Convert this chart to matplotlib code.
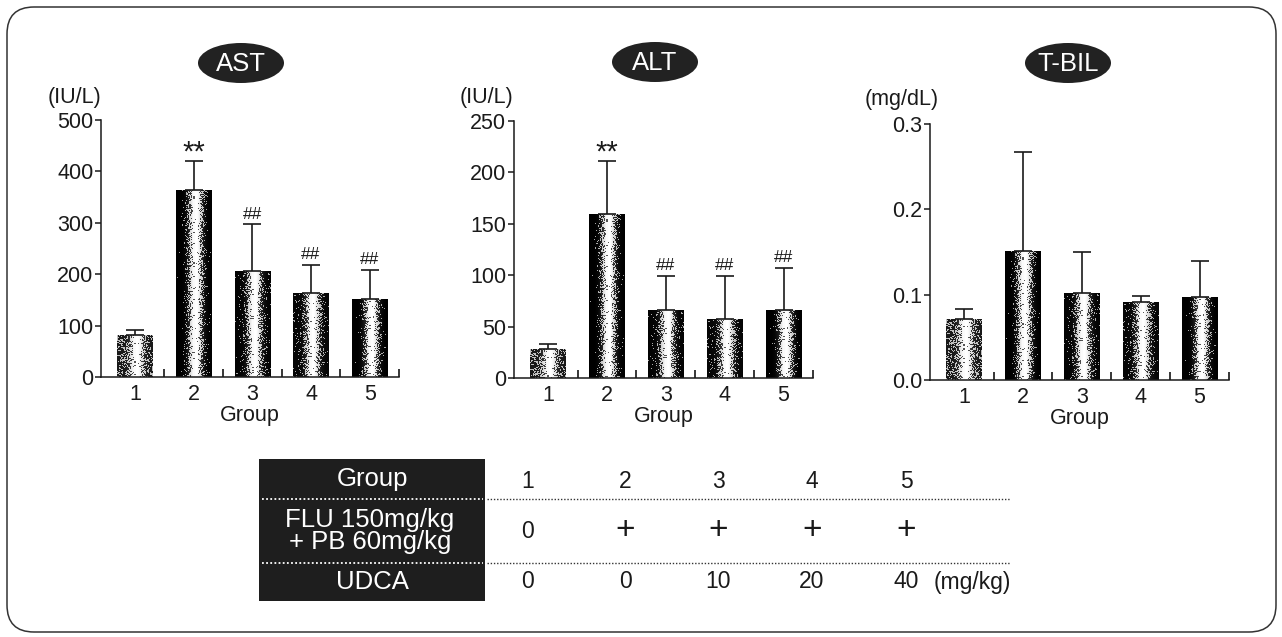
import numpy as np
import matplotlib
matplotlib.use("Agg")
import matplotlib.pyplot as plt
from matplotlib.patches import Ellipse, FancyBboxPatch, Rectangle

plt.rcParams['font.family'] = ['Liberation Sans', 'DejaVu Sans']

# data
groups = [1, 2, 3, 4, 5]

ast_mean = [81, 363, 206, 163, 151]
ast_sd = [11, 58, 91, 55, 57]
ast_sig = ['', '**', '##', '##', '##']

alt_mean = [28, 160, 66, 57, 66]
alt_sd = [5, 51, 33, 42, 41]
alt_sig = ['', '**', '##', '##', '##']

tbil_mean = [0.072, 0.151, 0.102, 0.091, 0.097]
tbil_sd = [0.011, 0.116, 0.048, 0.007, 0.042]
tbil_sig = ['', '', '', '', '']

tab_group = ['1', '2', '3', '4', '5']
tab_flu = ['0', '+', '+', '+', '+']
tab_udca = ['0', '0', '10', '20', '40']

# darkness of the bar edges (style)
bar_dark = [0.28, 0.0, 0.04, 0.06, 0.0]

W, H = 1282, 637
fig = plt.figure(figsize=(W / 100, H / 100), dpi=100)

# background layer in pixel coords (y down)
bg = fig.add_axes([0, 0, 1, 1])
bg.set_xlim(0, W)
bg.set_ylim(H, 0)
bg.axis('off')

INK = '#1a1a1a'
FS = 15.5


def px(x0, y0, x1, y1):
    # pixel box -> figure fraction [l, b, w, h]
    return [x0 / W, 1 - y1 / H, (x1 - x0) / W, (y1 - y0) / H]


def grain(h, w, k):
    # deterministic hash texture for the printed stipple look
    yy, xx = np.mgrid[0:h, 0:w]
    v = np.sin(xx * 12.9898 + yy * 78.233 + k * 37.719) * 43758.5453
    return v - np.floor(v)


def shade(ax, bars, dark):
    for k, (b, d) in enumerate(zip(bars, dark)):
        ext = b.get_window_extent()
        w = max(int(round(ext.width)), 2)
        h = max(int(round(ext.height)), 2)
        t = np.linspace(0, 1, w)
        prof = d + (1 - d) * np.exp(-((t - 0.55) / 0.19) ** 2)
        img = np.tile(prof, (h, 1))
        dots = (img > grain(h, w, k)).astype(float)
        img = 0.65 * dots + 0.35 * img
        x0, y0 = b.get_x(), b.get_y()
        im = ax.imshow(img, cmap='gray', vmin=0, vmax=1,
                       extent=[x0, x0 + b.get_width(), y0, y0 + b.get_height()],
                       aspect='auto', interpolation='nearest', zorder=2)
        im.set_clip_path(b)


def panel(box, mean, sd, sig, ymax, yticks, fmt):
    ax = fig.add_axes(px(*box))
    ax.set_xlim(0.42, 5.5)
    ax.set_ylim(0, ymax)
    bars = ax.bar(groups, mean, width=0.6, color='none', edgecolor='none', zorder=2)
    shade(ax, bars, bar_dark)
    ax.errorbar(groups, mean, yerr=[np.zeros(len(sd)), sd], fmt='none',
                ecolor=INK, elinewidth=1.2, capsize=6.5, capthick=1.2, zorder=3)
    for g, m, s, txt in zip(groups, mean, sd, sig):
        if txt == '**':
            ax.annotate(txt, (g, m + s), xytext=(0, -4), textcoords='offset points',
                        ha='center', va='bottom', fontsize=21, color=INK)
        elif txt:
            ax.annotate(txt, (g, m + s), xytext=(0, 2), textcoords='offset points',
                        ha='center', va='bottom', fontsize=12.5, color=INK)
    ax.set_xlim(0.42, 5.5)
    ax.set_ylim(0, ymax)
    ax.set_yticks(yticks)
    ax.set_yticklabels([fmt.format(v) for v in yticks])
    ax.set_yticks([ymax], minor=True)
    ax.set_xticks(groups)
    ax.set_xticks([1.5, 2.5, 3.5, 4.5, 5.5], minor=True)
    ax.tick_params(axis='x', which='major', length=0, pad=5, labelsize=FS, colors=INK)
    ax.tick_params(axis='x', which='minor', direction='in', length=6, width=1.1)
    ax.tick_params(axis='y', which='major', direction='out', length=4, width=1.1,
                   pad=1.5, labelsize=FS, colors=INK)
    ax.tick_params(axis='y', which='minor', direction='in', length=7, width=1.1)
    ax.set_xlabel('Group', fontsize=FS, labelpad=0, color=INK)
    for s in ['top', 'right']:
        ax.spines[s].set_visible(False)
    for s in ['left', 'bottom']:
        ax.spines[s].set_linewidth(1.1)
        ax.spines[s].set_color(INK)
    ax.patch.set_alpha(0)
    return ax


panel((101, 120, 399, 377), ast_mean, ast_sd, ast_sig, 500, [0, 100, 200, 300, 400, 500], '{:.0f}')
panel((514, 121, 813, 378), alt_mean, alt_sd, alt_sig, 250, [0, 50, 100, 150, 200, 250], '{:.0f}')
panel((930, 124, 1229, 380), tbil_mean, tbil_sd, tbil_sig, 0.3, [0.0, 0.1, 0.2, 0.3], '{:.1f}')

# unit labels
bg.text(48, 97, '(IU/L)', fontsize=FS, ha='left', va='center', color=INK)
bg.text(460, 97, '(IU/L)', fontsize=FS, ha='left', va='center', color=INK)
bg.text(865, 100, '(mg/dL)', fontsize=FS, ha='left', va='center', color=INK)

# title ovals
for cx, cy, name in [(241, 63, 'AST'), (655, 62, 'ALT'), (1068, 63, 'T-BIL')]:
    bg.add_patch(Ellipse((cx, cy), 86, 40, facecolor='#222222', edgecolor='none'))
    bg.text(cx, cy + 1, name, color='white', fontsize=18.5, ha='center', va='center')

# outer rounded frame
bg.add_patch(FancyBboxPatch((7, 7), 1269, 625, boxstyle='round,pad=0,rounding_size=27',
                            facecolor='none', edgecolor='#333333', linewidth=1.1))

# treatment table
bg.add_patch(Rectangle((259, 459), 226, 142, facecolor='#1e1e1e', edgecolor='none'))
for yy in (499, 563):
    bg.plot([262, 483], [yy, yy], color='white', lw=1.3, linestyle=(0, (1, 1.3)))
    bg.plot([487, 1010], [yy, yy], color='#333333', lw=1.0, linestyle=(0, (1, 1.3)))
bg.text(372, 479, 'Group', color='white', fontsize=18.5, ha='center', va='center')
bg.text(370, 531, 'FLU 150mg/kg\n+ PB 60mg/kg', color='white', fontsize=18.5,
        ha='center', va='center', linespacing=0.85)
bg.text(372, 582, 'UDCA', color='white', fontsize=18.5, ha='center', va='center')

col_x = [528, 625, 718, 812, 906]
for cx, a, b, c in zip(col_x, tab_group, tab_flu, tab_udca):
    bg.text(cx, 481, a, fontsize=16.5, ha='center', va='center', color=INK)
    if b == '+':
        bg.text(cx, 530, b, fontsize=24, ha='center', va='center', color=INK)
    else:
        bg.text(cx, 531, b, fontsize=16.5, ha='center', va='center', color=INK)
    bg.text(cx, 582, c, fontsize=16.5, ha='center', va='center', color=INK)
bg.text(934, 582, '(mg/kg)', fontsize=16.5, ha='left', va='center', color=INK)

fig.savefig('out.png', dpi=100)
